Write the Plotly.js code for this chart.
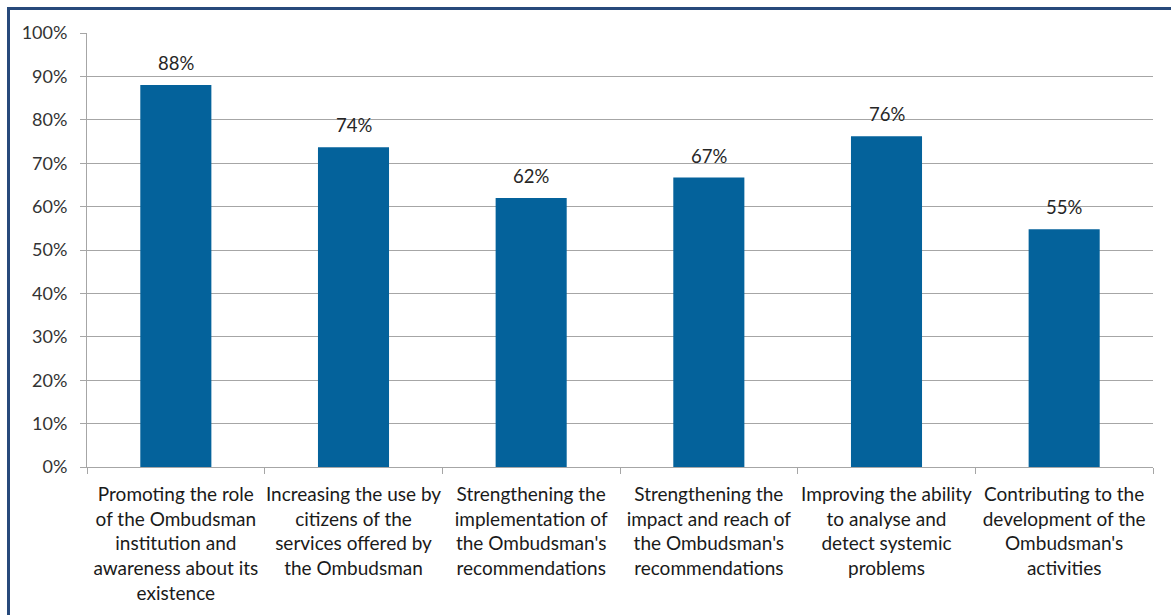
<!DOCTYPE html>
<html>
<head>
<meta charset="utf-8">
<script src="https://cdn.plot.ly/plotly-3.0.1.min.js"></script>
<style>
  html, body { margin: 0; padding: 0; background: #fff; overflow: hidden; }
  #wrap { position: relative; width: 1171px; height: 615px; }
  #chart { position: absolute; left: 0; top: 0; width: 1171px; height: 615px; }
  #frame { position: absolute; left: 7px; top: 7px; width: 1170px; height: 620px;
           border: 3px solid #27497B; box-sizing: border-box; pointer-events: none; }
</style>
</head>
<body>
<div id="wrap">
  <div id="chart"></div>
  <div id="frame"></div>
</div>
<script>
const categories = [
  "Promoting the role<br>of the Ombudsman<br>institution and<br>awareness about its<br>existence",
  "Increasing the use by<br>citizens of the<br>services offered by<br>the Ombudsman",
  "Strengthening the<br>implementation of<br>the Ombudsman's<br>recommendations",
  "Strengthening the<br>impact and reach of<br>the Ombudsman's<br>recommendations",
  "Improving the ability<br>to analyse and<br>detect systemic<br>problems",
  "Contributing to the<br>development of the<br>Ombudsman's<br>activities"
];
const values = [0.88, 0.737, 0.62, 0.667, 0.762, 0.548];
const valueLabels = ["88%", "74%", "62%", "67%", "76%", "55%"];
const yTickVals = [0, 0.1, 0.2, 0.3, 0.4, 0.5, 0.6, 0.7, 0.8, 0.9, 1.0];
const yTickText = ["0%", "10%", "20%", "30%", "40%", "50%", "60%", "70%", "80%", "90%", "100%"];

const FONT = "Lato, 'Open Sans', sans-serif";

const trace = {
  type: "bar",
  x: categories,
  y: values,
  marker: { color: "#04629B" },
  hoverinfo: "none"
};

const annotations = categories.map((c, i) => ({
  x: c, y: values[i], xref: "x", yref: "y",
  text: valueLabels[i], showarrow: false,
  yanchor: "bottom", yshift: 9,
  font: { family: FONT, size: 18.5, color: "#262626" }
}));

const layout = {
  width: 1171, height: 615,
  margin: { l: 87, r: 18, t: 33, b: 148 },
  paper_bgcolor: "#ffffff", plot_bgcolor: "#ffffff",
  bargap: 0.6,
  showlegend: false,
  font: { family: FONT, size: 18, color: "#262626" },
  xaxis: {
    type: "category",
    tickson: "boundaries",
    ticks: "outside", ticklen: 6, tickcolor: "#A6A6A6", tickwidth: 1,
    showline: true, linecolor: "#A6A6A6", linewidth: 1,
    showgrid: false, zeroline: false,
    tickangle: 0,
    ticklabelstandoff: 10,
    tickfont: { family: FONT, size: 19, color: "#1a1a1a" },
    automargin: false
  },
  yaxis: {
    range: [0, 1],
    tickvals: yTickVals, ticktext: yTickText,
    ticks: "outside", ticklen: 6, tickcolor: "#A6A6A6", tickwidth: 1,
    showline: true, linecolor: "#A6A6A6", linewidth: 1,
    showgrid: true, gridcolor: "#A6A6A6", gridwidth: 1,
    zeroline: false,
    ticklabelstandoff: 9,
    tickfont: { family: FONT, size: 18, color: "#333333" },
    automargin: false
  },
  annotations: annotations
};

Plotly.newPlot("chart", [trace], layout, { displayModeBar: false, staticPlot: true });
</script>
</body>
</html>
